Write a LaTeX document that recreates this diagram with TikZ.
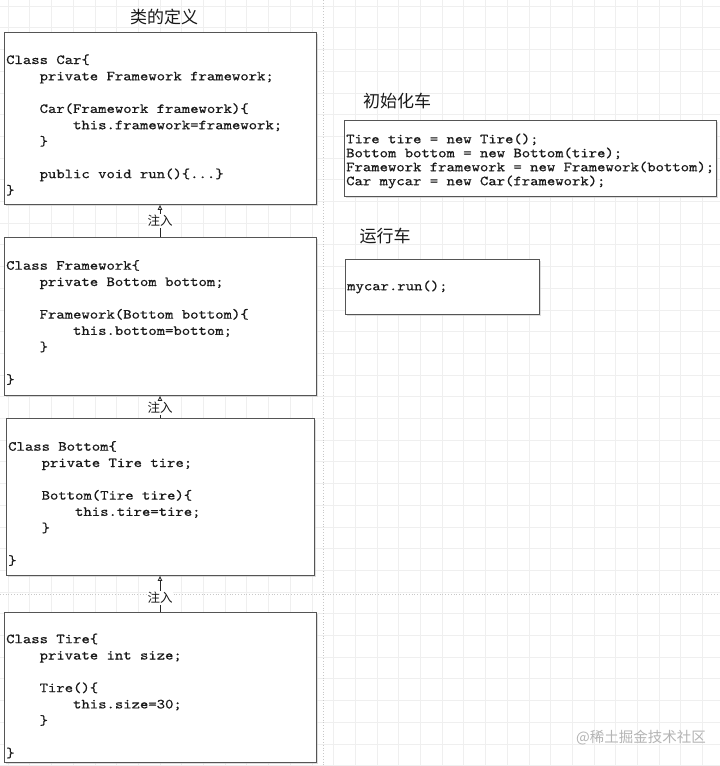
\documentclass[tikz,border=0pt]{standalone}
\usepackage{fontspec}
\newfontfamily\codeff{lmmono10-regular.otf}[FakeStretch=1.146, FakeBold=0.6]
\newfontfamily\cjk{Noto Sans CJK SC}
\usetikzlibrary{arrows.meta,shadows}
\definecolor{boxc}{HTML}{555555}
\definecolor{gridc}{HTML}{EFEFEF}
\definecolor{pagec}{HTML}{C8C8C8}
\definecolor{markc}{HTML}{B4B4B4}
\newcommand\tb{\phantom{0000}}
\newcommand\codefont{\codeff\fontsize{13.9}{16.3}\selectfont}
\newcommand\codefontb{\codeff\fontsize{13.9}{14}\selectfont}
\begin{document}
\begin{tikzpicture}[x=1pt,y=-1pt,
  box/.style={draw=boxc, line width=0.9pt, fill=white, rectangle, inner sep=0pt, anchor=north west,
    drop shadow={shadow xshift=1.2pt, shadow yshift=-1.2pt, fill=black!22, opacity=0.6}},
  code/.style={font=\codefont, align=left, anchor=west, inner sep=0pt, text=black!90},
  codeb/.style={font=\codefontb, align=left, anchor=west, inner sep=0pt, text=black!90},
  title/.style={font=\cjk\fontsize{17}{20}\selectfont, inner sep=0pt, text=black!90},
  inj/.style={font=\cjk\fontsize{12.5}{14}\selectfont, fill=white, inner sep=0.8pt, text=black!90},
  dep/.style={draw=black!85, line width=0.8pt, -{Triangle[open,length=5pt,width=4.5pt]}},
  gridline/.style={draw=gridc, line width=0.6pt},
  pageline/.style={draw=pagec, line width=0.8pt, dotted}
]
\fill[white] (0,0) rectangle (720,766);
\useasboundingbox (0,0) rectangle (720,766);
% background grid
\foreach \i in {0,...,33} \draw[gridline] ({\i*21.7+8},0) -- ({\i*21.7+8},766);
\foreach \j in {0,...,35} \draw[gridline] (0,{\j*21.7+6}) -- (720,{\j*21.7+6});
\draw[pageline] (323,0) -- (323,766);
\draw[pageline] (0,594) -- (720,594);

% titles
\node[title] (t1) at (164,17) {类的定义};
\node[title] (t2) at (397,101) {初始化车};
\node[title] (t3) at (385,236) {运行车};

% class boxes
\node[box, minimum width=312pt, minimum height=172pt] (car) at (4,32) {};
\node[box, minimum width=312pt, minimum height=158pt] (fw) at (4,237) {};
\node[box, minimum width=308pt, minimum height=157pt] (bot) at (6,418) {};
\node[box, minimum width=312pt, minimum height=150pt] (tire) at (4,612) {};
\node[box, minimum width=372pt, minimum height=76pt] (init) at (344,120) {};
\node[box, minimum width=194pt, minimum height=55pt] (run) at (345,259) {};

\node[code] (carT) at (6,125) {Class Car\{\\
\tb private Framework framework;\\
\mbox{}\\
\tb Car(Framework framework)\{\\
\tb\tb this.framework=framework;\\
\tb \}\\
\mbox{}\\
\tb public void run()\{...\}\\
\}};

\node[code] (fwT) at (6,322.5) {Class Framework\{\\
\tb private Bottom bottom;\\
\mbox{}\\
\tb Framework(Bottom bottom)\{\\
\tb\tb this.bottom=bottom;\\
\tb \}\\
\mbox{}\\
\}};

\node[code] (botT) at (8,503.5) {Class Bottom\{\\
\tb private Tire tire;\\
\mbox{}\\
\tb Bottom(Tire tire)\{\\
\tb\tb this.tire=tire;\\
\tb \}\\
\mbox{}\\
\}};

\node[code] (tireT) at (6,696) {Class Tire\{\\
\tb private int size;\\
\mbox{}\\
\tb Tire()\{\\
\tb\tb this.size=30;\\
\tb \}\\
\mbox{}\\
\}};

\node[codeb] (initT) at (346,161) {Tire tire = new Tire();\\
Bottom bottom = new Bottom(tire);\\
Framework framework = new Framework(bottom);\\
Car mycar = new Car(framework);};

\node[code] (runT) at (347,287) {mycar.run();};

% injection arrows
\coordinate (c1) at (160,204);
\draw[dep] (fw.north -| c1) -- (car.south -| c1);
\node[inj] (i1) at (160,221) {注入};
\draw[dep] (bot.north -| c1) -- (fw.south -| c1);
\node[inj] (i2) at (160,408) {注入};
\draw[dep] (tire.north -| c1) -- (bot.south -| c1);
\node[inj] (i3) at (160,598) {注入};

% watermark
\node[font=\cjk\fontsize{14.5}{16}\selectfont, text=markc, anchor=east, inner sep=0pt] (wm) at (706,738) {@稀土掘金技术社区};
\end{tikzpicture}
\end{document}
